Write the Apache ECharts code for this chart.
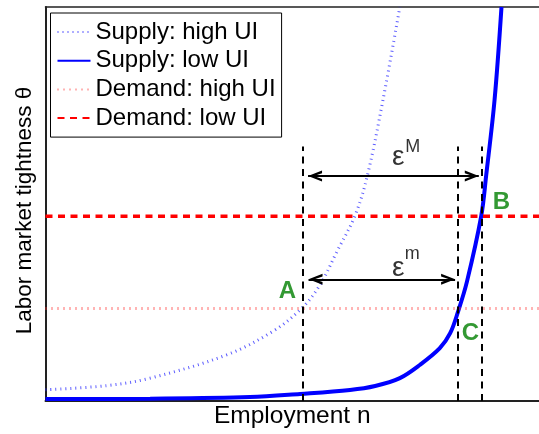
<!DOCTYPE html>
<html><head><meta charset="utf-8">
<script src="https://cdn.jsdelivr.net/npm/echarts@6/dist/echarts.min.js"></script>
<style>html,body{margin:0;padding:0;background:#fff}#c{width:539px;height:434px}</style>
</head><body><div id="c"></div>
<script>
// ---- data (arbitrary units 0..100) ----
const seriesNames = ['Supply: high UI', 'Supply: low UI', 'Demand: high UI', 'Demand: low UI'];
const nRange = [0, 100];
const thetaRange = [0, 100];
const supplyHighN     = [0, 12.4, 21.2, 36.7, 46.1, 51.9, 55.6, 59.0, 62.7, 65.2, 68.4, 71.8];
const supplyHighTheta = [2.85, 3.9, 5.8, 11.7, 17.7, 23.5, 29.4, 37.8, 47.0, 57.1, 76.5, 100];
const supplyLowN      = [0, 21.2, 41.4, 51.6, 61.7, 66.8, 71.8, 75.9, 79.9, 82.0, 83.6, 85.4, 88.3, 89.3, 91.0, 92.4];
const supplyLowTheta  = [0.5, 0.6, 1.0, 1.8, 2.8, 3.8, 5.8, 9.2, 13.4, 17.2, 22.7, 30.3, 47.0, 57.3, 76.5, 100];
const demandHighTheta = 23.5;
const demandLowTheta  = 46.9;
const cutoffN   = [52.1, 83.5, 88.5];
const cutoffTop = 64.6;
const gapNames      = ['M', 'm'];
const gapTheta      = [57.1, 30.9];
const gapFromN      = [53.2, 53.3];
const gapToN        = [87.8, 83.0];
const epsN          = [71.5, 71.5];
const epsTheta      = [61.9, 33.8];
const supN          = [74.4, 74.3];
const supTheta      = [64.5, 37.3];
const pointNames = ['A', 'B', 'C'];
const pointN     = [49.0, 92.4, 86.1];
const pointTheta = [27.8, 50.3, 17.2];
const xAxisName = 'Employment n';
const yAxisName = 'Labor market tightness θ';

// ---- chart ----
const FONT = "'Liberation Sans', Arial, sans-serif";
const zip = (a, b) => a.map((v, i) => [v, b[i]]);
const chevron = 'path://M5,0 L10,14 L7.6,14 L5,6 L2.4,14 L0,14 Z';
const chart = echarts.init(document.getElementById('c'), null, {renderer: 'canvas'});
const noFill = {color: 'rgba(0,0,0,0)', borderWidth: 0};

const hiddenAxis = {
  type: 'value', axisTick: {show: false}, axisLabel: {show: false}, splitLine: {show: false}
};

chart.setOption({
  animation: false,
  backgroundColor: '#fff',
  grid: {left: 45.5, right: 0, top: 7, bottom: 31, containLabel: false},
  xAxis: [
    Object.assign({}, hiddenAxis, {
      min: nRange[0], max: nRange[1], position: 'bottom',
      axisLine: {show: true, onZero: false, lineStyle: {color: '#222', width: 2}},
      name: xAxisName, nameLocation: 'middle', nameGap: 3,
      nameTextStyle: {fontFamily: FONT, fontSize: 24.5, color: '#000'}
    }),
    Object.assign({}, hiddenAxis, {
      min: nRange[0], max: nRange[1], position: 'top',
      axisLine: {show: true, onZero: false, lineStyle: {color: '#222', width: 1.5}}
    })
  ],
  yAxis: Object.assign({}, hiddenAxis, {
    min: thetaRange[0], max: thetaRange[1],
    axisLine: {show: true, onZero: false, lineStyle: {color: '#222', width: 2}},
    name: yAxisName, nameLocation: 'middle', nameGap: 9, nameRotate: 90,
    nameTextStyle: {fontFamily: FONT, fontSize: 22.5, color: '#000', padding: [0, 13, 0, 0]}
  }),
  legend: {
    data: seriesNames,
    orient: 'vertical', left: 50.5, top: 13,
    padding: [7, 6, 7, 6],
    itemWidth: 33, itemHeight: 14, itemGap: 4.7,
    borderColor: '#000', borderWidth: 1, backgroundColor: '#fff',
    itemStyle: noFill,
    textStyle: {fontFamily: FONT, fontSize: 24, color: '#000', lineHeight: 24},
    selectedMode: false
  },
  series: [
    {
      name: seriesNames[0], type: 'line', data: zip(supplyHighN, supplyHighTheta),
      smooth: 0.35, symbol: 'none', itemStyle: noFill,
      lineStyle: {color: 'rgba(40,40,255,0.75)', width: 3, type: [1, 4]}
    },
    {
      name: seriesNames[1], type: 'line', data: zip(supplyLowN, supplyLowTheta),
      smooth: 0.35, symbol: 'none', itemStyle: noFill,
      lineStyle: {color: '#0000ff', width: 4, type: 'solid'}
    },
    {
      name: seriesNames[2], type: 'line', data: [[nRange[0], demandHighTheta], [nRange[1], demandHighTheta]],
      symbol: 'none', itemStyle: noFill,
      lineStyle: {color: 'rgba(255,40,40,0.7)', width: 3, type: [1, 5]}
    },
    {
      name: seriesNames[3], type: 'line', data: [[nRange[0], demandLowTheta], [nRange[1], demandLowTheta]],
      symbol: 'none', itemStyle: noFill,
      lineStyle: {color: '#ff0000', width: 3.5, type: [7, 5.5]}
    },
    {
      name: 'guides', type: 'line', data: [], symbol: 'none',
      markLine: {
        silent: true, animation: false,
        label: {show: false},
        data: cutoffN.map(n => [
          {coord: [n, 0], symbol: 'none', lineStyle: {color: '#000', width: 2, type: [7, 5.5]}},
          {coord: [n, cutoffTop], symbol: 'none'}
        ]).concat(gapTheta.map((t, i) => [
          {coord: [gapFromN[i], t], symbol: chevron, symbolSize: [11, 14], symbolOffset: [0, 7],
           lineStyle: {color: '#000', width: 2, type: 'solid'}},
          {coord: [gapToN[i], t], symbol: chevron, symbolSize: [11, 14], symbolOffset: [0, 7]}
        ]))
      }
    },
    {
      name: 'epsLabels', type: 'scatter', symbolSize: 0, silent: true,
      data: epsN.map((n, i) => ({value: [n, epsTheta[i]], label: {formatter: 'ε'}})),
      label: {show: true, position: 'inside', fontFamily: FONT, fontSize: 28, color: '#000'}
    },
    {
      name: 'supLabels', type: 'scatter', symbolSize: 0, silent: true,
      data: gapNames.map((g, i) => ({value: [supN[i], supTheta[i]], label: {formatter: g}})),
      label: {show: true, position: 'inside', fontFamily: FONT, fontSize: 18, color: '#000'}
    },
    {
      name: 'pointLabels', type: 'scatter', symbolSize: 0, silent: true,
      data: pointNames.map((p, i) => ({value: [pointN[i], pointTheta[i]], label: {formatter: p}})),
      label: {
        show: true, position: 'inside',
        fontFamily: FONT, fontSize: 24, fontWeight: 'bold', color: '#008000'
      }
    }
  ]
});
</script></body></html>
